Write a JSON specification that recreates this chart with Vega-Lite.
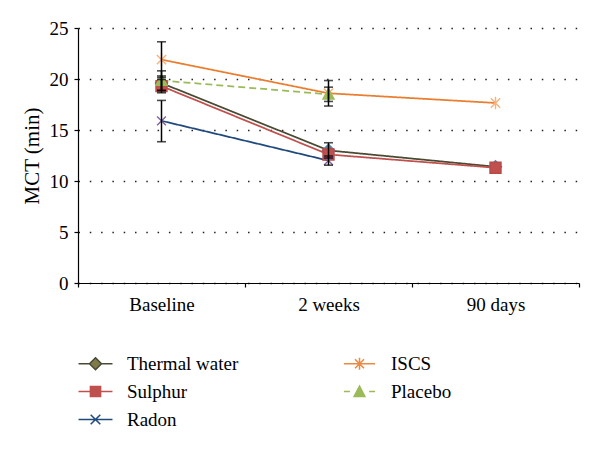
{
  "$schema": "https://vega.github.io/schema/vega-lite/v6.json",
  "width": 501,
  "height": 255,
  "autosize": "none",
  "padding": {"left": 78, "top": 28, "right": 21, "bottom": 167},
  "config": {
    "view": {"stroke": null},
    "font": "Liberation Serif",
    "axis": {"labelFont": "Liberation Serif", "titleFont": "Liberation Serif", "labelColor": "black", "titleColor": "black", "domainColor": "black", "tickColor": "black", "labelFontSize": 19, "titleFontWeight": "normal"},
    "legend": {"labelFont": "Liberation Serif"}
  },
  "datasets": {
    "series": [
      {"series": "Thermal water", "time": "Baseline", "value": 19.6},
      {"series": "Thermal water", "time": "2 weeks", "value": 13.0},
      {"series": "Thermal water", "time": "90 days", "value": 11.4},
      {"series": "Sulphur", "time": "Baseline", "value": 19.3},
      {"series": "Sulphur", "time": "2 weeks", "value": 12.6},
      {"series": "Sulphur", "time": "90 days", "value": 11.3},
      {"series": "Radon", "time": "Baseline", "value": 15.9},
      {"series": "Radon", "time": "2 weeks", "value": 12.0},
      {"series": "ISCS", "time": "Baseline", "value": 21.9},
      {"series": "ISCS", "time": "2 weeks", "value": 18.6},
      {"series": "ISCS", "time": "90 days", "value": 17.65},
      {"series": "Placebo", "time": "Baseline", "value": 19.85},
      {"series": "Placebo", "time": "2 weeks", "value": 18.5}
    ],
    "errors": [
      {"series": "ISCS", "time": "Baseline", "lo": 20.15, "hi": 23.65},
      {"series": "Placebo", "time": "Baseline", "lo": 18.85, "hi": 20.8},
      {"series": "Thermal water", "time": "Baseline", "lo": 18.9, "hi": 20.3},
      {"series": "Sulphur", "time": "Baseline", "lo": 18.65, "hi": 19.95},
      {"series": "Radon", "time": "Baseline", "lo": 13.85, "hi": 17.9},
      {"series": "ISCS", "time": "2 weeks", "lo": 17.35, "hi": 19.85},
      {"series": "Placebo", "time": "2 weeks", "lo": 17.8, "hi": 19.2},
      {"series": "Thermal water", "time": "2 weeks", "lo": 12.25, "hi": 13.75},
      {"series": "Radon", "time": "2 weeks", "lo": 11.55, "hi": 12.45}
    ],
    "none": []
  },
  "layer": [
    {
      "data": {"name": "series"},
      "mark": {"type": "line", "strokeWidth": 1.75},
      "encoding": {
        "x": {"field": "time", "type": "nominal", "sort": ["Baseline", "2 weeks", "90 days"],
              "scale": {"type": "band", "domain": ["Baseline", "2 weeks", "90 days"], "paddingInner": 0, "paddingOuter": 0},
              "axis": {"title": null, "labelAngle": 0, "tickBand": "extent", "tickSize": 4, "labelPadding": 8, "domainWidth": 1.2, "tickWidth": 1.2, "labelFont": "Liberation Serif"}},
        "y": {"field": "value", "type": "quantitative",
              "scale": {"domain": [0, 25], "nice": false, "zero": true},
              "axis": {"title": "MCT (min)", "titleFontSize": 21, "values": [0, 5, 10, 15, 20, 25], "grid": true, "gridDash": [1.5, 9.8], "gridColor": "#222222", "gridWidth": 1.4, "tickSize": 4, "labelPadding": 6, "titlePadding": 7, "domainWidth": 1.2, "tickWidth": 1.2, "labelFont": "Liberation Serif"}},
        "stroke": {"field": "series", "type": "nominal",
                   "scale": {"domain": ["Thermal water", "Sulphur", "Radon", "ISCS", "Placebo"], "range": ["#4a4a33", "#c0504d", "#1f497d", "#ea7e2e", "#9bbb59"]},
                   "legend": null},
        "strokeDash": {"field": "series", "type": "nominal",
                       "scale": {"domain": ["Thermal water", "Sulphur", "Radon", "ISCS", "Placebo"], "range": [[1, 0], [1, 0], [1, 0], [1, 0], [7, 4]]},
                       "legend": null}
      }
    },
    {
      "data": {"name": "series"},
      "mark": {"type": "point", "filled": true, "size": 121, "strokeWidth": 1.4, "opacity": 1},
      "encoding": {
        "x": {"field": "time", "type": "nominal", "sort": ["Baseline", "2 weeks", "90 days"]},
        "y": {"field": "value", "type": "quantitative"},
        "shape": {"field": "series", "type": "nominal",
                  "scale": {"domain": ["Thermal water", "Sulphur", "Radon", "ISCS", "Placebo"],
                            "range": ["M0,-1.1L1.1,0L0,1.1L-1.1,0Z", "M-1,-1L1,-1L1,1L-1,1Z", "M-0.8,-0.8L0.8,0.8M-0.8,0.8L0.8,-0.8", "M-0.85,-0.85L0.85,0.85M-0.85,0.85L0.85,-0.85M0,-1.15L0,1.15", "M0,-1L1,0.85L-1,0.85Z"]},
                  "legend": null},
        "fill": {"field": "series", "type": "nominal",
                 "scale": {"domain": ["Thermal water", "Sulphur", "Radon", "ISCS", "Placebo"], "range": ["#7f7a4a", "#c0504d", "#8064a2", "#f9b27a", "#9bbb59"]},
                 "legend": null},
        "stroke": {"field": "series", "type": "nominal",
                   "scale": {"domain": ["Thermal water", "Sulphur", "Radon", "ISCS", "Placebo"], "range": ["#4f81bd", "#b84a47", "#8064a2", "#f9b27a", "#9bbb59"]},
                   "legend": null}
      }
    },
    {
      "data": {"name": "errors"},
      "mark": {"type": "rule", "color": "black", "strokeWidth": 1.5},
      "encoding": {
        "x": {"field": "time", "type": "nominal", "sort": ["Baseline", "2 weeks", "90 days"]},
        "y": {"field": "lo", "type": "quantitative"},
        "y2": {"field": "hi"}
      }
    },
    {
      "data": {"name": "errors"},
      "mark": {"type": "tick", "color": "black", "size": 9, "thickness": 1.6, "orient": "horizontal"},
      "encoding": {
        "x": {"field": "time", "type": "nominal", "sort": ["Baseline", "2 weeks", "90 days"]},
        "y": {"field": "lo", "type": "quantitative"}
      }
    },
    {
      "data": {"name": "errors"},
      "mark": {"type": "tick", "color": "black", "size": 9, "thickness": 1.6, "orient": "horizontal"},
      "encoding": {
        "x": {"field": "time", "type": "nominal", "sort": ["Baseline", "2 weeks", "90 days"]},
        "y": {"field": "hi", "type": "quantitative"}
      }
    },
    {
      "data": {"name": "none"},
      "mark": {"type": "point", "filled": true, "strokeWidth": 1.5, "opacity": 1},
      "encoding": {
        "shape": {"field": "series", "type": "nominal",
                  "scale": {"domain": ["Thermal water", "Sulphur", "Radon", "ISCS", "Placebo"],
                            "range": [
                              "M-2.83,0L-1,0M1,0L2.83,0M0,-1L1,0L0,1L-1,0Z",
                              "M-2.83,0L-0.85,0M0.85,0L2.83,0M-0.85,-0.85L0.85,-0.85L0.85,0.85L-0.85,0.85Z",
                              "M-2.83,0L2.83,0M-0.8,-0.8L0.8,0.8M-0.8,0.8L0.8,-0.8",
                              "M-2.6,0L2.6,0M-0.75,-0.75L0.75,0.75M-0.75,0.75L0.75,-0.75M0,-1L0,1",
                              "M-2.6,0L-1.6,0M1.6,0L2.6,0M0,-0.9L0.9,0.85L-0.9,0.85Z"
                            ]},
                  "legend": {"title": null, "orient": "none", "legendX": 8, "legendY": 326, "columns": 2, "columnPadding": 101, "rowPadding": 8, "padding": 0, "symbolSize": 144, "symbolStrokeWidth": 1.5, "labelFont": "Liberation Serif", "labelFontSize": 19, "labelColor": "black", "labelOffset": 22, "labelLimit": 300}},
        "fill": {"field": "series", "type": "nominal",
                 "scale": {"domain": ["Thermal water", "Sulphur", "Radon", "ISCS", "Placebo"], "range": ["#7f7a4a", "#c0504d", "#8064a2", "#f9b27a", "#9bbb59"]}},
        "stroke": {"field": "series", "type": "nominal",
                   "scale": {"domain": ["Thermal water", "Sulphur", "Radon", "ISCS", "Placebo"], "range": ["#4a4a33", "#c0504d", "#1f497d", "#ea8a44", "#9bbb59"]}}
      }
    }
  ],
  "resolve": {"scale": {"stroke": "independent", "fill": "independent", "shape": "independent", "strokeDash": "independent"}}
}
